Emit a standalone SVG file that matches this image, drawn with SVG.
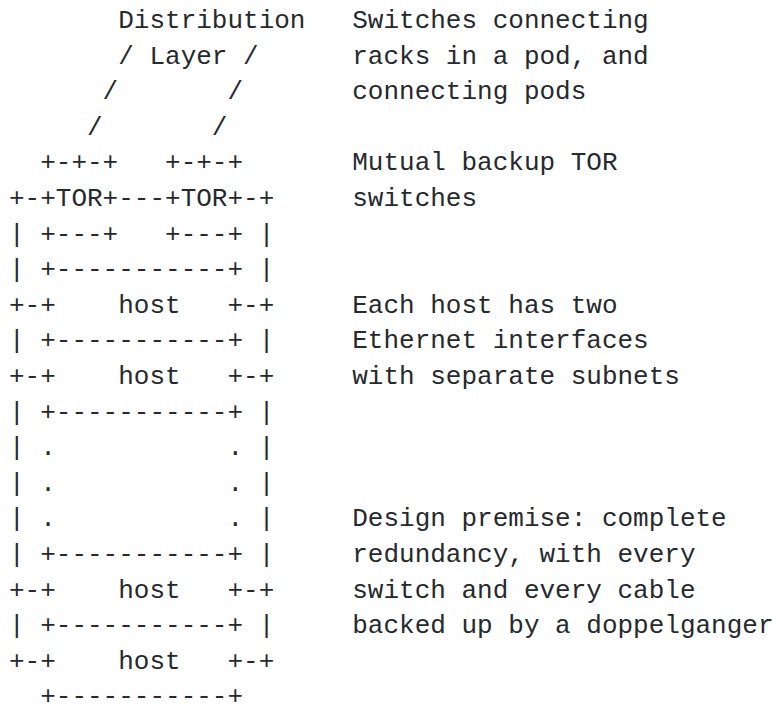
<svg xmlns="http://www.w3.org/2000/svg" width="773" height="707" viewBox="0 0 773 707">
<style>
text{font-family:"Liberation Mono","Courier New",monospace;font-size:26px;fill:#26292d;white-space:pre}
</style>
<rect width="773" height="707" fill="#ffffff"/>
<g id="art" xml:space="preserve">
<text x="9" y="28">       Distribution   Switches connecting</text>
<text x="9" y="63.6">       / Layer /      racks in a pod, and</text>
<text x="9" y="99.2">      /       /       connecting pods</text>
<text x="9" y="134.8">     /       /</text>
<text x="9" y="170.4">  +-+-+   +-+-+       Mutual backup TOR</text>
<text x="9" y="206">+-+TOR+---+TOR+-+     switches</text>
<text x="9" y="241.6">| +---+   +---+ |</text>
<text x="9" y="277.2">| +-----------+ |</text>
<text x="9" y="312.8">+-+    host   +-+     Each host has two</text>
<text x="9" y="348.4">| +-----------+ |     Ethernet interfaces</text>
<text x="9" y="384">+-+    host   +-+     with separate subnets</text>
<text x="9" y="419.6">| +-----------+ |</text>
<text x="9" y="455.2">| .           . |</text>
<text x="9" y="490.8">| .           . |</text>
<text x="9" y="526.4">| .           . |     Design premise: complete</text>
<text x="9" y="562">| +-----------+ |     redundancy, with every</text>
<text x="9" y="597.6">+-+    host   +-+     switch and every cable</text>
<text x="9" y="633.2">| +-----------+ |     backed up by a doppelganger</text>
<text x="9" y="668.8">+-+    host   +-+</text>
<text x="9" y="704.4">  +-----------+</text>
</g>
</svg>
